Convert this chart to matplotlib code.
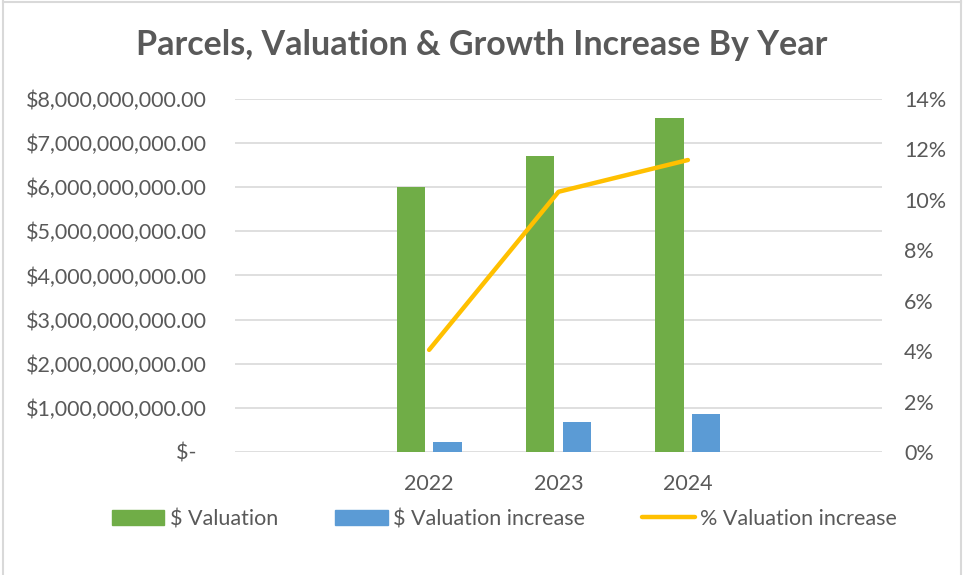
import matplotlib
matplotlib.use("Agg")
import matplotlib.pyplot as plt
from matplotlib.ticker import FixedLocator, FuncFormatter, PercentFormatter
from matplotlib.lines import Line2D

plt.rcParams['font.family'] = ['Lato', 'DejaVu Sans']

categories = ["", "2022", "2023", "2024", ""]
valuation = [0, 6.00e9, 6.70e9, 7.57e9, 0]
valuation_increase = [0, 0.22e9, 0.67e9, 0.86e9, 0]
pct_increase = [None, 0.0405, 0.1032, 0.1158, None]

GREEN = "#70AD47"
BLUE = "#5B9BD5"
GOLD = "#FFC000"
TXT = "#595959"
GRID = "#D9D9D9"
FS = 15.5

W, H = 963, 575
fig = plt.figure(figsize=(W / 100, H / 100), dpi=100)

ax = fig.add_axes([235 / W, 1 - 452 / H, (882 - 235) / W, (452 - 99) / H])
x = list(range(len(categories)))
bw = 0.22
off = 0.141
xs_g = [i - off for i in x]
xs_b = [i + off for i in x]
ax.bar(xs_g, valuation, width=bw, color=GREEN, label="$ Valuation", zorder=3)
ax.bar(xs_b, valuation_increase, width=bw, color=BLUE, label="$ Valuation increase", zorder=3)
ax.set_xlim(-0.5, len(categories) - 0.5)
ax.set_ylim(0, 8e9)
ax.yaxis.set_major_locator(FixedLocator([i * 1e9 for i in range(9)]))


def money(v, pos):
    if v == 0:
        return "$-  "
    return "${:,.2f}".format(v)


ax.yaxis.set_major_formatter(FuncFormatter(money))
ax.set_xticks(x)
ax.set_xticklabels(categories)
ax.grid(axis="y", color=GRID, linewidth=1.2, zorder=0)
ax.set_axisbelow(True)
for s in ax.spines.values():
    s.set_visible(False)
ax.tick_params(axis="both", length=0, colors=TXT, labelsize=FS)
ax.tick_params(axis="y", pad=20)
ax.tick_params(axis="x", pad=16)

ax2 = ax.twinx()
px = [i for i, v in zip(x, pct_increase) if v is not None]
py = [v for v in pct_increase if v is not None]
ax2.plot(px, py, color=GOLD, linewidth=3.2, solid_capstyle="round",
         solid_joinstyle="round", label="% Valuation increase", zorder=4)
ax2.set_ylim(0, 0.14)
ax2.yaxis.set_major_locator(FixedLocator([i * 0.02 for i in range(8)]))
ax2.yaxis.set_major_formatter(PercentFormatter(1.0, decimals=0))
for s in ax2.spines.values():
    s.set_visible(False)
ax2.tick_params(axis="y", length=0, colors=TXT, labelsize=FS, pad=16)

fig.text(0.5, 1 - 45 / H, "Parcels, Valuation & Growth Increase By Year",
         ha="center", va="center", fontsize=24.5, fontweight="bold", color=TXT)

handles = [
    plt.Rectangle((0, 0), 1, 1, color=GREEN),
    plt.Rectangle((0, 0), 1, 1, color=BLUE),
    Line2D([0], [0], color=GOLD, linewidth=3.2, solid_capstyle="round"),
]
labels = ["$ Valuation", "$ Valuation increase", "% Valuation increase"]
fig.legend(handles, labels, loc="center", bbox_to_anchor=(504.5 / W, 1 - 519 / H),
           ncol=3, frameon=False, fontsize=FS, labelcolor=TXT,
           handlelength=2.45, handleheight=0.7, handletextpad=0.25, columnspacing=2.65)

# chart border
for seg in [((2.5, 2.5), (0, H)), ((2.5, W - 2.5), (H - 1.5, H - 1.5)), ((W - 2.5, W - 2.5), (0, H))]:
    fig.add_artist(Line2D([seg[0][0] / W, seg[0][1] / W], [seg[1][0] / H, seg[1][1] / H],
                          color=GRID, linewidth=1.5, transform=fig.transFigure))

fig.savefig("out.png", dpi=100)
